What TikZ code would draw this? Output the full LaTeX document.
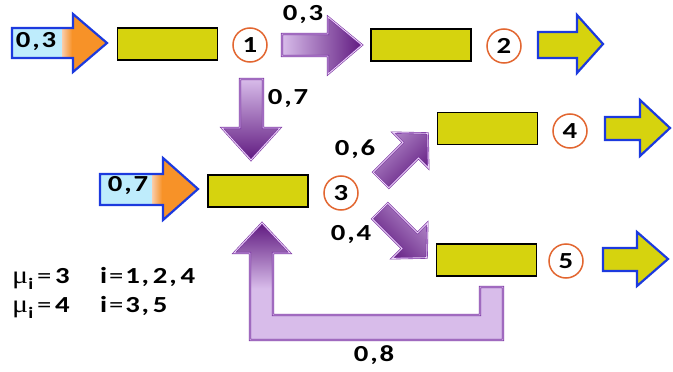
\documentclass[tikz,border=0pt]{standalone}
\usepackage{fontspec}
\setmainfont{Carlito}
\newfontfamily\lbl[FakeStretch=1.25,LetterSpace=8]{Carlito}
\newfontfamily\muf[FakeStretch=1.2]{Liberation Serif}
\definecolor{lav}{RGB}{216,188,234}
\definecolor{plight}{RGB}{236,210,248}
\definecolor{dpur}{RGB}{96,26,128}
\definecolor{pout}{RGB}{120,50,160}
\definecolor{acyan}{RGB}{190,236,252}
\definecolor{peach}{RGB}{250,205,170}
\definecolor{aorange}{RGB}{247,146,40}
\definecolor{ablue}{RGB}{28,58,222}
\definecolor{boxy}{RGB}{214,211,14}
\definecolor{corange}{RGB}{226,102,48}
\pgfdeclareverticalshading{fbshade}{100bp}{color(0bp)=(lav); color(25bp)=(lav); color(47bp)=(lav); color(75bp)=(dpur); color(100bp)=(dpur)}
\begin{document}
\begin{tikzpicture}[x=1pt,y=-1pt,
  lbltxt/.style={font=\lbl\bfseries\fontsize{23}{26}\selectfont, inner sep=0pt, text=black},
  mtxt/.style={font=\lbl\fontsize{23}{26}\selectfont, inner sep=0pt, text=black},
  box/.style={draw=black, line width=1.8pt, fill=boxy, minimum width=100pt, minimum height=32pt, inner sep=0pt},
  num/.style={circle, draw=corange, line width=1.5pt, fill=white, minimum size=34pt, inner sep=0pt, font=\lbl\bfseries\fontsize{23}{26}\selectfont},
  blueout/.style={draw=ablue, line width=2.2pt, line join=miter},
  yarrow/.style={blueout, fill=boxy},
  purout/.style={draw=pout, double=plight, double distance=0.9pt, line width=0.6pt, line join=miter}]
\useasboundingbox (0,0) rectangle (673,372);

% input arrows
\draw[blueout, path picture={
    \fill[acyan] (0,0) rectangle (62,100);
    \shade[left color=peach, right color=aorange] (62,0) rectangle (72,100);
    \fill[aorange] (72,0) rectangle (120,100);}]
  (12,28) -- (73,28) -- (73,14) -- (107,43) -- (73,72) -- (73,58) -- (12,58) -- cycle;
\draw[blueout, path picture={
    \fill[acyan] (90,150) rectangle (152,230);
    \shade[left color=peach, right color=aorange] (152,150) rectangle (162,230);
    \fill[aorange] (162,150) rectangle (210,230);}]
  (100,174) -- (163,174) -- (163,158) -- (198,189) -- (163,220) -- (163,205) -- (100,205) -- cycle;

% boxes
\node[box] (b1) at (167.5,44) {};
\node[box] (b2) at (421,45) {};
\node[box] (b3) at (258,191) {};
\node[box] (b4) at (487.5,128.5) {};
\node[box] (b5) at (486.5,260) {};

% numbered circles
\node[num] (c1) at (250,45) {1};
\node[num] (c2) at (504,46) {2};
\node[num] (c3) at (341,193) {3};
\node[num] (c4) at (570,131) {4};
\node[num] (c5) at (566,261) {5};

% output arrows
\draw[yarrow] (538,32) -- (577,32) -- (577,15) -- (603,44) -- (577,73) -- (577,58) -- (538,58) -- cycle;
\draw[yarrow] (605,117) -- (640,117) -- (640,100) -- (670,128) -- (640,156) -- (640,140) -- (605,140) -- cycle;
\draw[yarrow] (603,248) -- (637,248) -- (637,232) -- (668,259) -- (637,286) -- (637,271) -- (603,271) -- cycle;

% purple transfer arrows
\shadedraw[purout, left color=lav, right color=dpur]
  (282,34) -- (328,34) -- (328,17) -- (362,45) -- (328,74) -- (328,56) -- (282,56) -- cycle;
\shadedraw[purout, top color=lav, bottom color=dpur]
  (240,79) -- (263,79) -- (263,128) -- (280,128) -- (251,160) -- (222,128) -- (240,128) -- cycle;
\begin{scope}[shift={(381,180)}, rotate=45]
\shadedraw[purout, left color=lav!70!dpur, right color=dpur, shading angle=45]
  (0,-11) -- (42,-11) -- (42,-25) -- (66,0) -- (42,25) -- (42,11) -- (0,11) -- cycle;
\end{scope}
\begin{scope}[shift={(380,211)}, rotate=-45]
\shadedraw[purout, left color=lav!70!dpur, right color=dpur, shading angle=-45]
  (0,-11) -- (42,-11) -- (42,-25) -- (66,0) -- (42,25) -- (42,11) -- (0,11) -- cycle;
\end{scope}
% feedback arrow
\shadedraw[purout, shading=fbshade]
  (480,287) -- (503,287) -- (503,340) -- (250,340) -- (250,253) -- (234,253) -- (262,223)
  -- (290,253) -- (273,253) -- (273,315) -- (480,315) -- cycle;

% labels
\node[lbltxt] (l1) at (36,42) {0,3};
\node[lbltxt] (l2) at (303,15) {0,3};
\node[lbltxt] (l3) at (288,99) {0,7};
\node[lbltxt] (l4) at (128,186) {0,7};
\node[lbltxt] (l5) at (355,149) {0,6};
\node[lbltxt] (l6) at (351,235) {0,4};
\node[lbltxt] (l7) at (374,355) {0,8};

% service rates
\node[mtxt, anchor=base west] (m1a) at (12,283) {{\muf\fontsize{25}{25}\selectfont μ}\raisebox{-0.3em}{\bfseries\fontsize{16}{16}\selectfont i}\,=\,\textbf{3}};
\node[mtxt, anchor=base west] (m1b) at (100,283) {\textbf{i}=\textbf{1,\,2,\,4}};
\node[mtxt, anchor=base west] (m2a) at (12,312) {{\muf\fontsize{25}{25}\selectfont μ}\raisebox{-0.3em}{\bfseries\fontsize{16}{16}\selectfont i}\,=\,\textbf{4}};
\node[mtxt, anchor=base west] (m2b) at (100,312) {\textbf{i}=\textbf{3,\,5}};
\end{tikzpicture}
\end{document}
